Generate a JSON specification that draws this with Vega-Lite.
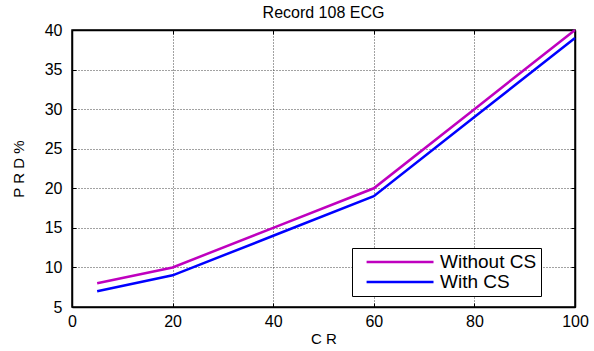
{
  "$schema": "https://vega.github.io/schema/vega-lite/v6.json",
  "autosize": "none",
  "width": 503,
  "height": 277,
  "padding": {"left": 72, "top": 30, "right": 19, "bottom": 44},
  "background": "white",
  "title": {"text": "Record 108 ECG", "fontSize": 16, "fontWeight": "normal", "font": "Liberation Sans", "color": "black", "offset": 1},
  "config": {
    "view": {"stroke": "black", "strokeWidth": 1.5},
    "font": "Liberation Sans"
  },
  "data": {"values": [
    {"cr": 5, "prd": 8, "series": "Without CS"},
    {"cr": 20, "prd": 10, "series": "Without CS"},
    {"cr": 40, "prd": 15, "series": "Without CS"},
    {"cr": 60, "prd": 20, "series": "Without CS"},
    {"cr": 80, "prd": 30, "series": "Without CS"},
    {"cr": 100, "prd": 40, "series": "Without CS"},
    {"cr": 5, "prd": 7, "series": "With CS"},
    {"cr": 20, "prd": 9, "series": "With CS"},
    {"cr": 40, "prd": 14, "series": "With CS"},
    {"cr": 60, "prd": 19, "series": "With CS"},
    {"cr": 80, "prd": 29, "series": "With CS"},
    {"cr": 100, "prd": 39, "series": "With CS"}
  ]},
  "layer": [
    {
      "mark": {"type": "line", "strokeWidth": 2.5},
      "encoding": {
        "x": {"field": "cr", "type": "quantitative", "scale": {"domain": [0, 100], "nice": false},
          "axis": {"title": "C R", "titleFontSize": 15, "titleFontWeight": "normal", "titleColor": "black", "titlePadding": 2,
            "values": [0, 20, 40, 60, 80, 100], "labelFontSize": 16, "labelColor": "black", "labelPadding": 10, "labelFlush": false,
            "tickSize": -4, "tickColor": "black", "domainColor": "black", "domainWidth": 1.5,
            "grid": true, "gridColor": "#444", "gridDash": [1, 2], "gridWidth": 1}},
        "y": {"field": "prd", "type": "quantitative", "scale": {"domain": [5, 40], "nice": false, "zero": false},
          "axis": {"title": "P R D %", "titleFontSize": 15, "titleFontWeight": "normal", "titleColor": "black", "titlePadding": 18,
            "values": [5, 10, 15, 20, 25, 30, 35, 40], "labelFontSize": 16, "labelColor": "black", "labelPadding": 14, "labelFlush": false,
            "tickSize": -4, "tickColor": "black", "domainColor": "black", "domainWidth": 1.5,
            "grid": true, "gridColor": "#444", "gridDash": [1, 2], "gridWidth": 1}},
        "color": {"field": "series", "type": "nominal",
          "scale": {"domain": ["Without CS", "With CS"], "range": ["#BF00BF", "#0000FF"]},
          "legend": {"title": null, "orient": "none", "legendX": 280, "legendY": 218,
            "symbolType": "M0.07,0H8.07", "symbolSize": 280, "symbolStrokeWidth": 2.5,
            "labelFontSize": 19, "labelColor": "black", "labelOffset": 64,
            "strokeColor": "black", "fillColor": "white", "padding": 4, "rowPadding": 0,
            "labelLimit": 250}}
      }
    },
    {
      "mark": {"type": "line", "opacity": 0},
      "encoding": {
        "x": {"field": "cr", "type": "quantitative",
          "axis": {"orient": "top", "title": null, "labels": false, "values": [0, 20, 40, 60, 80, 100], "tickSize": -4, "tickColor": "black", "domainColor": "black", "domainWidth": 1.5, "grid": false}},
        "y": {"field": "prd", "type": "quantitative",
          "axis": {"orient": "right", "title": null, "labels": false, "values": [5, 10, 15, 20, 25, 30, 35, 40], "tickSize": -4, "tickColor": "black", "domainColor": "black", "domainWidth": 1.5, "grid": false}}
      }
    }
  ],
  "resolve": {"axis": {"x": "independent", "y": "independent"}}
}
